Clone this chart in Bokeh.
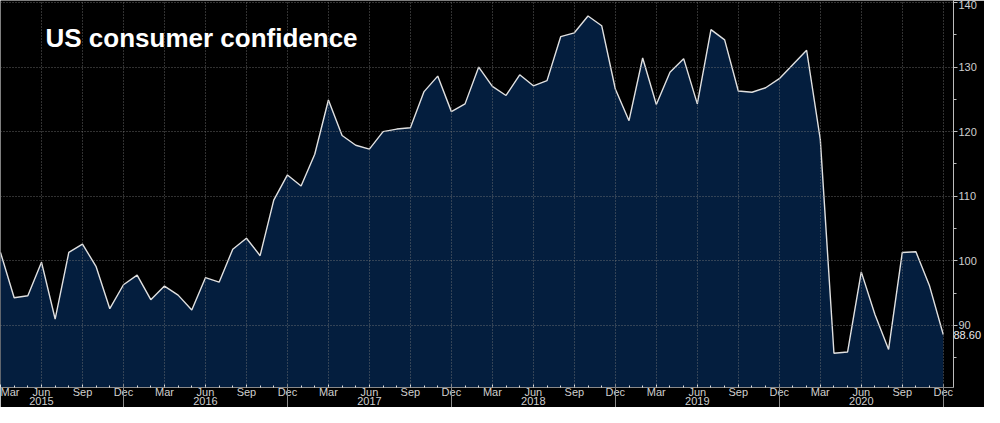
from bokeh.plotting import figure
from bokeh.models import (Range1d, LinearAxis, FixedTicker, Label)
from bokeh.embed import file_html
from bokeh.resources import INLINE

# ---- data ----
title_text = "US consumer confidence"
quarter_names = ["Mar", "Jun", "Sep", "Dec"]
years = ["2015", "2016", "2017", "2018", "2019", "2020"]
# monthly values, Mar 2015 .. Dec 2020
values = [
    101.3, 94.3, 94.6, 99.8, 91.0, 101.3, 102.6, 99.1, 92.6, 96.3,
    97.8, 94.0, 96.1, 94.7, 92.4, 97.4, 96.7, 101.8, 103.5, 100.8, 109.4, 113.3,
    111.6, 116.5, 124.9, 119.4, 117.9, 117.3, 120.0, 120.4, 120.6, 126.2, 128.6, 123.1,
    124.3, 130.0, 127.0, 125.6, 128.8, 127.1, 127.9, 134.7, 135.3, 137.9, 136.4, 126.6,
    121.7, 131.4, 124.2, 129.2, 131.3, 124.3, 135.8, 134.2, 126.3, 126.1, 126.8, 128.2,
    130.4, 132.6, 118.8, 85.7, 85.9, 98.3, 91.7, 86.3, 101.3, 101.4, 96.1, 88.6,
]
y_ticks = [90, 100, 110, 120, 130, 140]
y_minor = [85, 95, 105, 115, 125, 135]
last_label = "88.60"

x = list(range(len(values)))
quarter_ticks = x[::3]
quarter_labels = {i: quarter_names[k % 4] for k, i in enumerate(quarter_ticks)}
year_ticks = [3 + 12 * k for k in range(len(years))]
year_labels = {t: years[k] for k, t in enumerate(year_ticks)}
dec_ticks = [9 + 12 * k for k in range(len(years))]

BG = "#000000"
FILL = "#041e3e"
TXT = "#cfcfcf"
FONT = "Liberation Sans"

p = figure(width=984, height=407, output_backend="svg", toolbar_location=None,
           x_range=Range1d(0.0, 69.75), y_range=Range1d(80.4, 140.3),
           y_axis_location="right", x_axis_location=None,
           background_fill_color=BG, border_fill_color=BG,
           min_border_left=0, min_border_top=0, min_border_bottom=0, min_border_right=0)
p.outline_line_color = None

p.varea(x=x, y1=70, y2=values, fill_color=FILL)
p.line(x=x, y=values, line_color="#e0e0e0", line_width=1.4)

# right y axis
ya = p.yaxis[0]
ya.ticker = FixedTicker(ticks=y_ticks, minor_ticks=y_minor)
ya.axis_line_color = "#bdbdbd"
ya.major_tick_line_color = "#bdbdbd"
ya.minor_tick_line_color = "#bdbdbd"
ya.major_tick_in = 0
ya.major_tick_out = 4
ya.minor_tick_in = 0
ya.minor_tick_out = 3
ya.major_label_standoff = 1
ya.major_label_text_color = TXT
ya.major_label_text_font = FONT
ya.major_label_text_font_size = "11px"

# last value callout, as a second right axis pulled back over the first
cx = LinearAxis(ticker=FixedTicker(ticks=[values[-1]], minor_ticks=[]),
                major_label_overrides={values[-1]: last_label})
cx.axis_line_color = None
cx.major_tick_line_color = None
cx.major_tick_in = 0
cx.major_tick_out = 0
cx.major_label_standoff = -26
cx.major_label_text_color = "#ececec"
cx.major_label_text_font = FONT
cx.major_label_text_font_size = "11px"
props = cx.properties()
if "major_label_border_line_color" in props:
    cx.major_label_border_line_color = "#ffffff"
if "major_label_background_fill_color" in props:
    cx.major_label_background_fill_color = "#000000"
if "major_label_padding" in props:
    cx.major_label_padding = 1
p.add_layout(cx, "right")

# month axis
mx = LinearAxis(ticker=FixedTicker(ticks=quarter_ticks, minor_ticks=x),
                major_label_overrides=quarter_labels)
mx.axis_line_color = "#8a8a8a"
mx.major_tick_line_color = "#e0e0e0"
mx.minor_tick_line_color = "#e0e0e0"
mx.major_tick_in = 3
mx.major_tick_out = 0
mx.minor_tick_in = 2
mx.minor_tick_out = 0
mx.major_label_standoff = -2
mx.major_label_text_color = TXT
mx.major_label_text_font = FONT
mx.major_label_text_font_size = "11px"
p.add_layout(mx, "below")

# year axis (separators drawn as minor ticks at Dec)
yx = LinearAxis(ticker=FixedTicker(ticks=year_ticks, minor_ticks=dec_ticks),
                major_label_overrides=year_labels)
yx.axis_line_color = None
yx.major_tick_line_color = None
yx.major_tick_in = 0
yx.major_tick_out = 12
yx.minor_tick_line_color = "#8a8a8a"
yx.minor_tick_in = 16
yx.minor_tick_out = 12
yx.major_label_standoff = -16
yx.major_label_text_color = TXT
yx.major_label_text_font = FONT
yx.major_label_text_font_size = "11px"
p.add_layout(yx, "below")

# grids (over the fill)
p.xgrid.ticker = FixedTicker(ticks=quarter_ticks)
p.ygrid.ticker = FixedTicker(ticks=y_ticks)
for g in (p.xgrid[0], p.ygrid[0]):
    g.grid_line_color = "#7a7a7a"
    g.grid_line_dash = "1 2"
    g.grid_line_width = 1
    g.grid_line_alpha = 0.8
    g.level = "annotation"

# title
p.add_layout(Label(x=45, y=134.5, x_units="screen", y_units="data", text=title_text,
                   text_color="#ffffff", text_font=FONT, text_font_style="bold",
                   text_font_size="26px", text_baseline="alphabetic"))

open("out.html", "w").write(file_html(p, INLINE))
